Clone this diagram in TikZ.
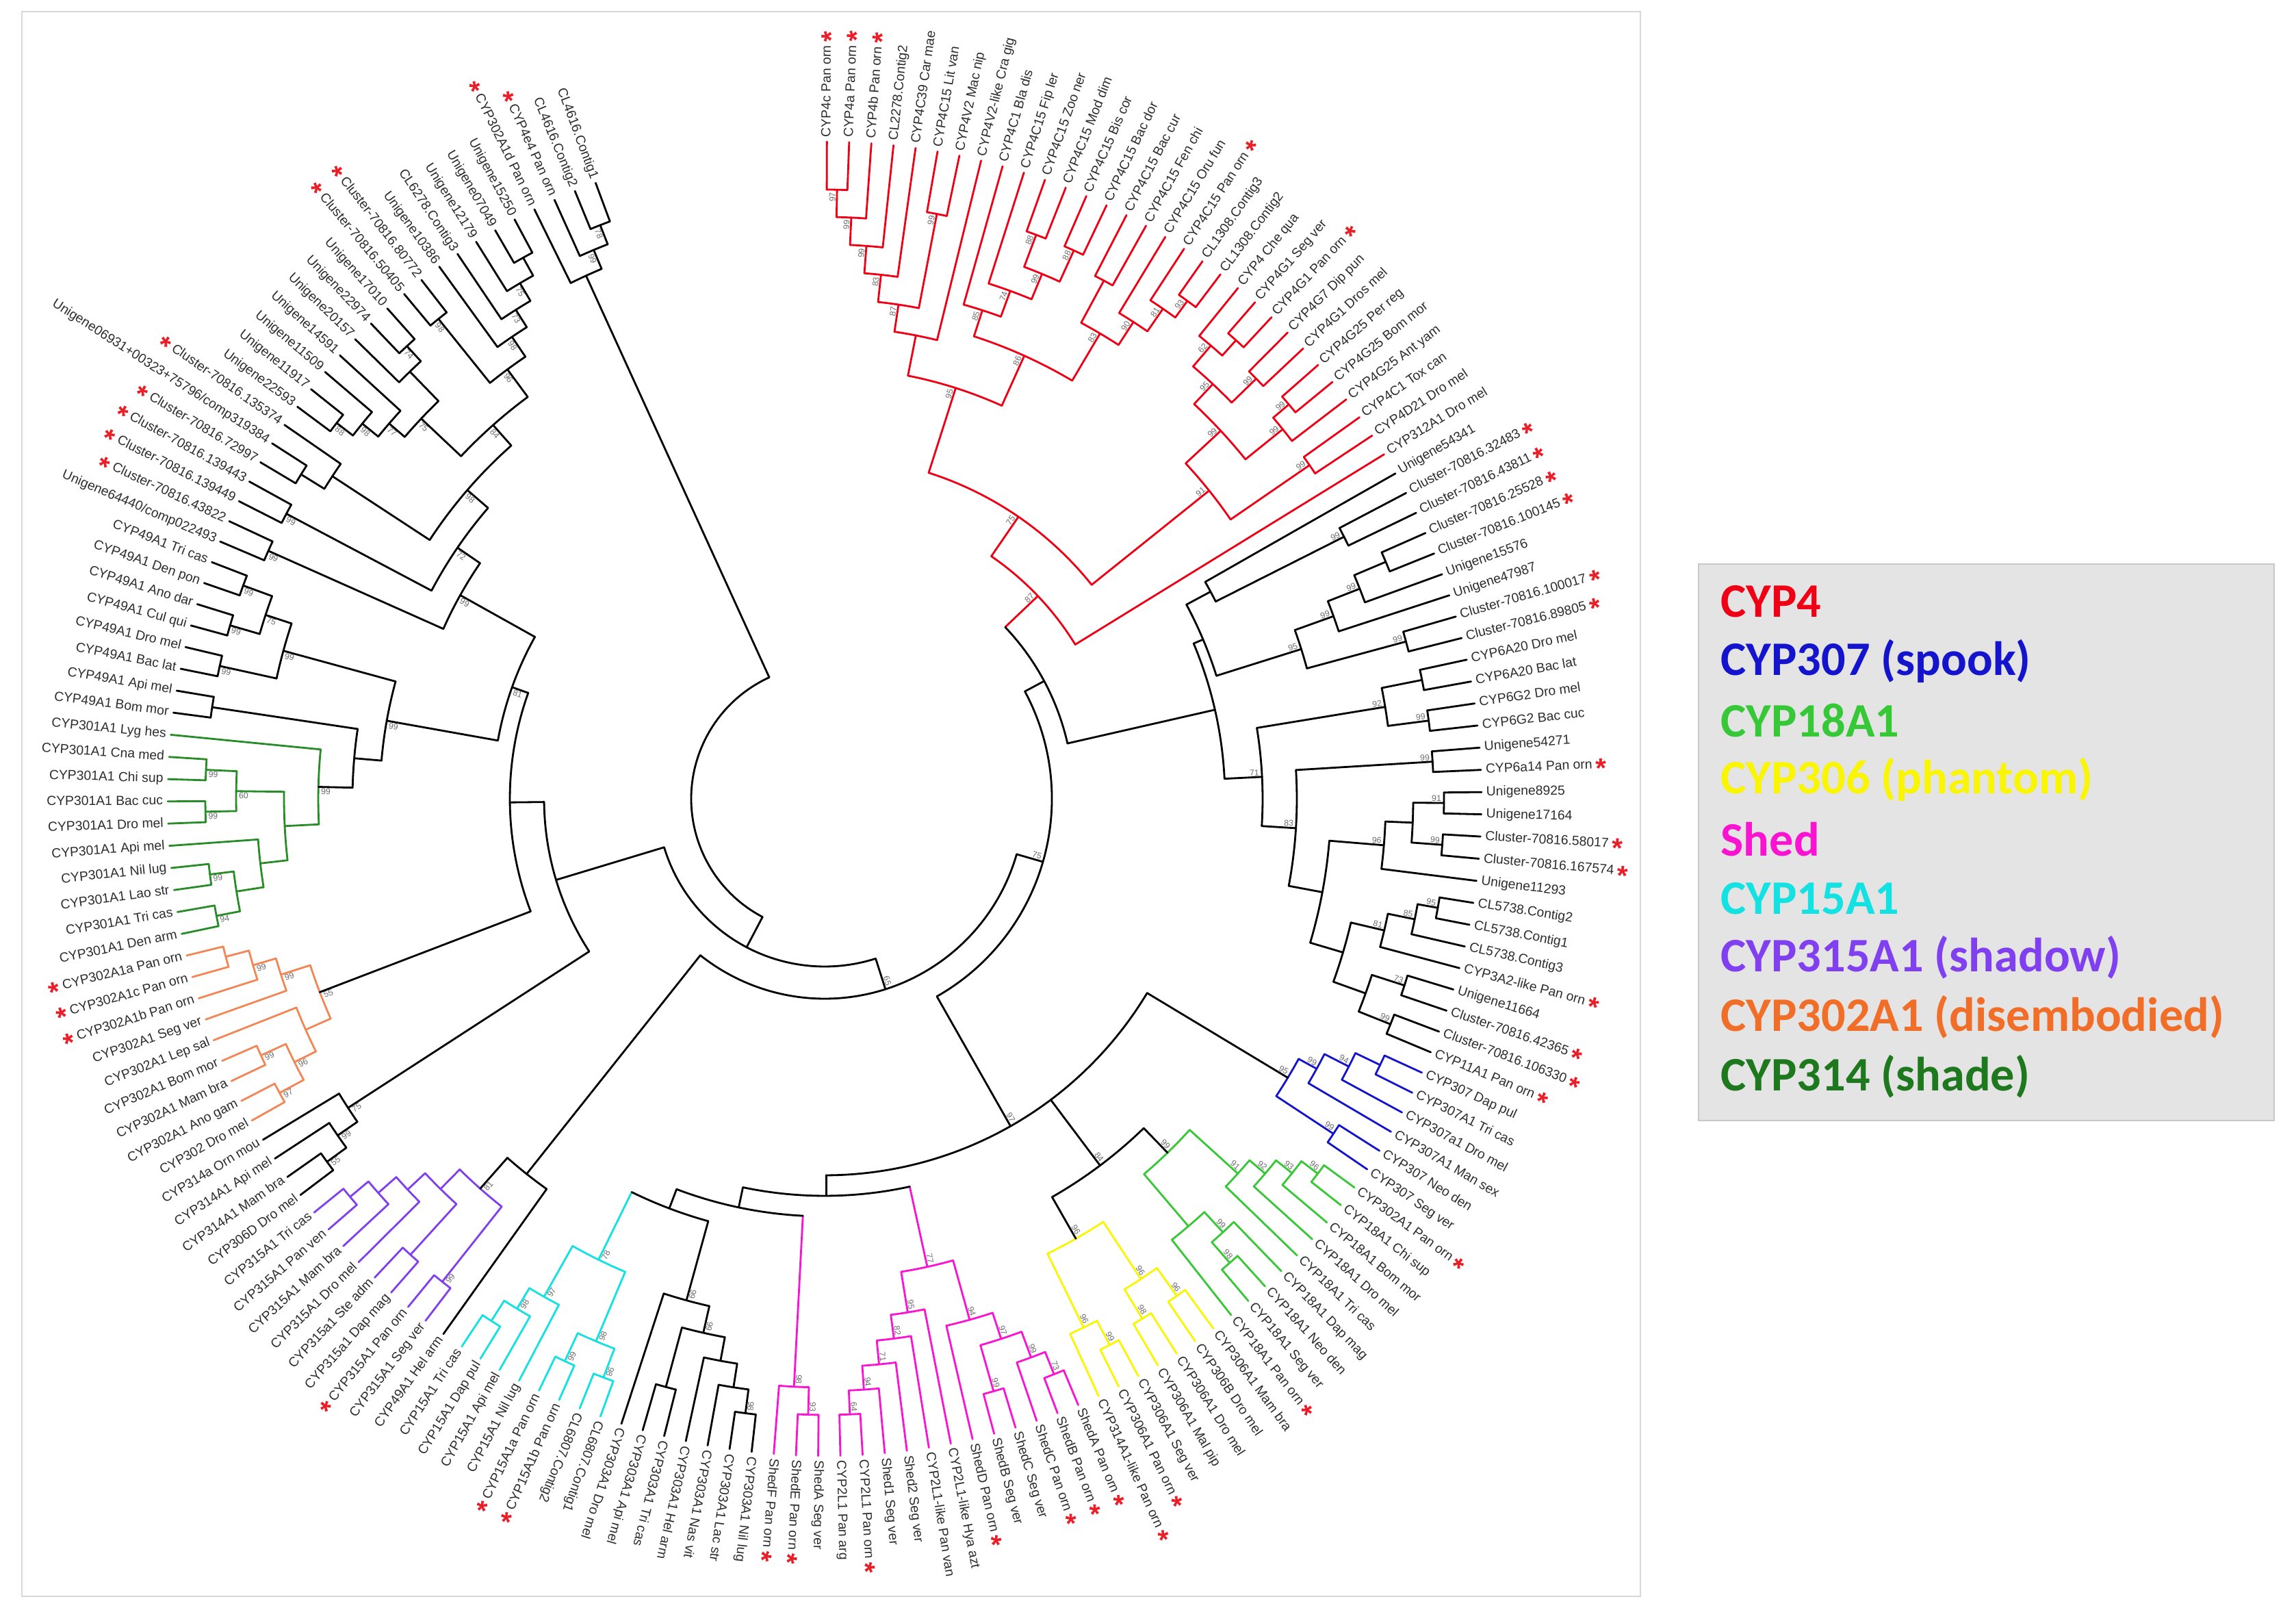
\documentclass[tikz,border=0pt]{standalone}
\usepackage{fontspec}
\setmainfont{Liberation Sans}
\newfontfamily\legfont{Carlito}
\usepackage{tikz}

\definecolor{cfour}{RGB}{240,0,20}
\definecolor{cspook}{RGB}{20,20,205}
\definecolor{ceighteen}{RGB}{55,200,55}
\definecolor{cphantom}{RGB}{250,245,0}
\definecolor{cshed}{RGB}{250,20,210}
\definecolor{cfifteen}{RGB}{20,225,225}
\definecolor{cshadow}{RGB}{128,64,240}
\definecolor{cdisemb}{RGB}{240,110,40}
\definecolor{cdisembtree}{RGB}{242,135,85}
\definecolor{cshade}{RGB}{30,120,30}
\definecolor{cshadetree}{RGB}{40,140,40}
\definecolor{clabel}{RGB}{45,45,45}
\definecolor{cboot}{RGB}{110,110,110}
\definecolor{cstar}{RGB}{235,30,40}
\definecolor{legfill}{RGB}{228,228,228}
\definecolor{legline}{RGB}{200,200,200}
\definecolor{panel}{RGB}{215,215,215}

\newcommand{\tipr}{9.6}
\newcommand{\curcol}{black}
\newcommand{\starmark}{\hspace{1.5pt}\smash{\raisebox{-4pt}{\textcolor{cstar}{\fontsize{11.5}{11.5}\selectfont\bfseries *}}}\hspace{1.5pt}}
\newcommand{\setstem}[2]{\expandafter\xdef\csname tc@#1\endcsname{#2}}

\newcommand{\lf}[3]{%
  \pgfmathsetmacro{\lfang}{89.8-(#1-1)*1.9394}%
  \coordinate (l#1) at ({\lfang}:\tipr);%
  \expandafter\xdef\csname ta@l#1\endcsname{\lfang}%
  \expandafter\xdef\csname tr@l#1\endcsname{\tipr}%
  \expandafter\xdef\csname tc@l#1\endcsname{\curcol}%
  \ifdim\lfang pt>-112pt
    \node[leaflbl,anchor=west,rotate=\lfang] (lab#1) at ({\lfang}:{\tipr+0.07}) {#2\ifnum#3=1\starmark\fi};%
  \else
    \pgfmathsetmacro{\lfflip}{\lfang+180}%
    \node[leaflbl,anchor=east,rotate=\lfflip] (lab#1) at ({\lfang}:{\tipr+0.07}) {\ifnum#3=1\starmark\fi#2};%
  \fi}

\newcommand{\nd}[4]{%
  \gdef\ndmin{1000}\gdef\ndmax{-1000}%
  \foreach \ch in {#3}{%
    \pgfmathsetmacro{\chang}{\csname ta@\ch\endcsname}%
    \pgfmathsetmacro{\tmpv}{min(\ndmin,\chang)}\xdef\ndmin{\tmpv}%
    \pgfmathsetmacro{\tmpv}{max(\ndmax,\chang)}\xdef\ndmax{\tmpv}%
    \edef\chcol{\csname tc@\ch\endcsname}%
    \draw[branch,draw=\chcol] ({\chang}:#2) -- (\ch);%
  }%
  \draw[branch,draw=\curcol] ({\ndmax}:#2) arc[start angle=\ndmax,end angle=\ndmin,radius=#2];%
  \pgfmathsetmacro{\ndang}{(\ndmin+\ndmax)/2}%
  \coordinate (#1) at ({\ndang}:#2);%
  \expandafter\xdef\csname ta@#1\endcsname{\ndang}%
  \expandafter\xdef\csname tr@#1\endcsname{#2}%
  \expandafter\xdef\csname tc@#1\endcsname{\curcol}%
  \if\relax\detokenize{#4}\relax\else
    \ifdim\ndang pt>-112pt
      \node[boot,anchor=south east,rotate=\ndang] (bs#1) at ({\ndang}:{#2-0.02}) {#4};%
    \else
      \pgfmathsetmacro{\ndflip}{\ndang+180}%
      \node[boot,anchor=north west,rotate=\ndflip] (bs#1) at ({\ndang}:{#2-0.02}) {#4};%
    \fi
  \fi}

\tikzset{
  branch/.style={line width=0.8pt,line cap=round},
  leaflbl/.style={inner sep=0pt,outer sep=0pt,text=clabel,text height=4pt,text depth=1.1pt,font=\fontsize{5.5}{6}\selectfont},
  boot/.style={inner sep=0.4pt,text=cboot,font=\fontsize{3.5}{4}\selectfont},
  legitem/.style={anchor=west,inner sep=0pt,font=\legfont\bfseries\fontsize{20}{24}\selectfont}
}

\begin{document}
\begin{tikzpicture}
\useasboundingbox (0,0) rectangle (33.55,23.70);
\fill[white] (0,0) rectangle (33.55,23.70);
\draw[panel,line width=0.6pt] (0.32,0.38) rectangle (23.97,23.53);

\begin{scope}[shift={(12.05,12.03)}]
\renewcommand{\curcol}{cfour}
\lf{1}{CYP4c Pan orn}{1}
\lf{2}{CYP4a Pan orn}{1}
\lf{3}{CYP4b Pan orn}{1}
\lf{4}{CL2278.Contig2}{0}
\lf{5}{CYP4C39 Car mae}{0}
\lf{6}{CYP4C15 Lit van}{0}
\lf{7}{CYP4V2 Mac nip}{0}
\lf{8}{CYP4V2-like Cra gig}{0}
\lf{9}{CYP4C1 Bla dis}{0}
\lf{10}{CYP4C15 Fip ler}{0}
\lf{11}{CYP4C15 Zoo ner}{0}
\lf{12}{CYP4C15 Mod dim}{0}
\lf{13}{CYP4C15 Bis cor}{0}
\lf{14}{CYP4C15 Bac dor}{0}
\lf{15}{CYP4C15 Bac cur}{0}
\lf{16}{CYP4C15 Fen chi}{0}
\lf{17}{CYP4C15 Oru fun}{0}
\lf{18}{CYP4C15 Pan orn}{1}
\lf{19}{CL1308.Contig3}{0}
\lf{20}{CL1308.Contig2}{0}
\lf{21}{CYP4 Che qua}{0}
\lf{22}{CYP4G1 Seg ver}{0}
\lf{23}{CYP4G1 Pan orn}{1}
\lf{24}{CYP4G7 Dip pun}{0}
\lf{25}{CYP4G1 Dros mel}{0}
\lf{26}{CYP4G25 Per reg}{0}
\lf{27}{CYP4G25 Bom mor}{0}
\lf{28}{CYP4G25 Ant yam}{0}
\lf{29}{CYP4C1 Tox can}{0}
\lf{30}{CYP4D21 Dro mel}{0}
\lf{31}{CYP312A1 Dro mel}{0}
\renewcommand{\curcol}{black}
\lf{32}{Unigene54341}{0}
\lf{33}{Cluster-70816.32483}{1}
\lf{34}{Cluster-70816.43811}{1}
\lf{35}{Cluster-70816.25528}{1}
\lf{36}{Cluster-70816.100145}{1}
\lf{37}{Unigene15576}{0}
\lf{38}{Unigene47987}{0}
\lf{39}{Cluster-70816.100017}{1}
\lf{40}{Cluster-70816.89805}{1}
\lf{41}{CYP6A20 Dro mel}{0}
\lf{42}{CYP6A20 Bac lat}{0}
\lf{43}{CYP6G2 Dro mel}{0}
\lf{44}{CYP6G2 Bac cuc}{0}
\lf{45}{Unigene54271}{0}
\lf{46}{CYP6a14 Pan orn}{1}
\lf{47}{Unigene8925}{0}
\lf{48}{Unigene17164}{0}
\lf{49}{Cluster-70816.58017}{1}
\lf{50}{Cluster-70816.167574}{1}
\lf{51}{Unigene11293}{0}
\lf{52}{CL5738.Contig2}{0}
\lf{53}{CL5738.Contig1}{0}
\lf{54}{CL5738.Contig3}{0}
\lf{55}{CYP3A2-like Pan orn}{1}
\lf{56}{Unigene11664}{0}
\lf{57}{Cluster-70816.42365}{1}
\lf{58}{Cluster-70816.106330}{1}
\lf{59}{CYP11A1 Pan orn}{1}
\renewcommand{\curcol}{cspook}
\lf{60}{CYP307 Dap pul}{0}
\lf{61}{CYP307A1 Tri cas}{0}
\lf{62}{CYP307a1 Dro mel}{0}
\lf{63}{CYP307A1 Man sex}{0}
\lf{64}{CYP307 Neo den}{0}
\lf{65}{CYP307 Seg ver}{0}
\renewcommand{\curcol}{ceighteen}
\lf{66}{CYP302A1 Pan orn}{1}
\lf{67}{CYP18A1 Chi sup}{0}
\lf{68}{CYP18A1 Bom mor}{0}
\lf{69}{CYP18A1 Dro mel}{0}
\lf{70}{CYP18A1 Tri cas}{0}
\lf{71}{CYP18A1 Dap mag}{0}
\lf{72}{CYP18A1 Neo den}{0}
\lf{73}{CYP18A1 Seg ver}{0}
\lf{74}{CYP18A1 Pan orn}{1}
\renewcommand{\curcol}{cphantom}
\lf{75}{CYP306A1 Mam bra}{0}
\lf{76}{CYP306B Dro mel}{0}
\lf{77}{CYP306A1 Dro mel}{0}
\lf{78}{CYP306A1 Mal pip}{0}
\lf{79}{CYP306A1 Seg ver}{0}
\lf{80}{CYP306A1 Pan orn}{1}
\lf{81}{CYP314A1-like Pan orn}{1}
\renewcommand{\curcol}{cshed}
\lf{82}{ShedA Pan orn}{1}
\lf{83}{ShedB Pan orn}{1}
\lf{84}{ShedC Pan orn}{1}
\lf{85}{ShedC Seg ver}{0}
\lf{86}{ShedB Seg ver}{0}
\lf{87}{ShedD Pan orn}{1}
\lf{88}{CYP2L1-like Hya azt}{0}
\lf{89}{CYP2L1-like Pan van}{0}
\lf{90}{Shed2 Seg ver}{0}
\lf{91}{Shed1 Seg ver}{0}
\lf{92}{CYP2L1 Pan orn}{1}
\lf{93}{CYP2L1 Pan arg}{0}
\lf{94}{ShedA Seg ver}{0}
\lf{95}{ShedE Pan orn}{1}
\lf{96}{ShedF Pan orn}{1}
\renewcommand{\curcol}{black}
\lf{97}{CYP303A1 Nil lug}{0}
\lf{98}{CYP303A1 Lac str}{0}
\lf{99}{CYP303A1 Nas vit}{0}
\lf{100}{CYP303A1 Hel arm}{0}
\lf{101}{CYP303A1 Tri cas}{0}
\lf{102}{CYP303A1 Api mel}{0}
\lf{103}{CYP303A1 Dro mel}{0}
\renewcommand{\curcol}{cfifteen}
\lf{104}{CL6807.Contig1}{0}
\lf{105}{CL6807.Contig2}{0}
\lf{106}{CYP15A1b Pan orn}{1}
\lf{107}{CYP15A1a Pan orn}{1}
\lf{108}{CYP15A1 Nil lug}{0}
\lf{109}{CYP15A1 Api mel}{0}
\lf{110}{CYP15A1 Dap pul}{0}
\lf{111}{CYP15A1 Tri cas}{0}
\renewcommand{\curcol}{black}
\lf{112}{CYP49A1 Hel arm}{0}
\renewcommand{\curcol}{cshadow}
\lf{113}{CYP315A1 Seg ver}{0}
\lf{114}{CYP315A1 Pan orn}{1}
\lf{115}{CYP315a1 Dap mag}{0}
\lf{116}{CYP315a1 Ste adm}{0}
\lf{117}{CYP315A1 Dro mel}{0}
\lf{118}{CYP315A1 Mam bra}{0}
\lf{119}{CYP315A1 Pan ven}{0}
\lf{120}{CYP315A1 Tri cas}{0}
\renewcommand{\curcol}{black}
\lf{121}{CYP306D Dro mel}{0}
\lf{122}{CYP314A1 Mam bra}{0}
\lf{123}{CYP314A1 Api mel}{0}
\lf{124}{CYP314a Orn mou}{0}
\renewcommand{\curcol}{cdisembtree}
\lf{125}{CYP302 Dro mel}{0}
\lf{126}{CYP302A1 Ano gam}{0}
\lf{127}{CYP302A1 Mam bra}{0}
\lf{128}{CYP302A1 Bom mor}{0}
\lf{129}{CYP302A1 Lep sal}{0}
\lf{130}{CYP302A1 Seg ver}{0}
\lf{131}{CYP302A1b Pan orn}{1}
\lf{132}{CYP302A1c Pan orn}{1}
\lf{133}{CYP302A1a Pan orn}{1}
\renewcommand{\curcol}{cshadetree}
\lf{134}{CYP301A1 Den arm}{0}
\lf{135}{CYP301A1 Tri cas}{0}
\lf{136}{CYP301A1 Lao str}{0}
\lf{137}{CYP301A1 Nil lug}{0}
\lf{138}{CYP301A1 Api mel}{0}
\lf{139}{CYP301A1 Dro mel}{0}
\lf{140}{CYP301A1 Bac cuc}{0}
\lf{141}{CYP301A1 Chi sup}{0}
\lf{142}{CYP301A1 Cna med}{0}
\lf{143}{CYP301A1 Lyg hes}{0}
\renewcommand{\curcol}{black}
\lf{144}{CYP49A1 Bom mor}{0}
\lf{145}{CYP49A1 Api mel}{0}
\lf{146}{CYP49A1 Bac lat}{0}
\lf{147}{CYP49A1 Dro mel}{0}
\lf{148}{CYP49A1 Cul qui}{0}
\lf{149}{CYP49A1 Ano dar}{0}
\lf{150}{CYP49A1 Den pon}{0}
\lf{151}{CYP49A1 Tri cas}{0}
\lf{152}{Unigene64440/comp022493}{0}
\lf{153}{Cluster-70816.43822}{1}
\lf{154}{Cluster-70816.139449}{1}
\lf{155}{Cluster-70816.139443}{1}
\lf{156}{Cluster-70816.72997}{1}
\lf{157}{Unigene06931+00323+75796/comp319384}{0}
\lf{158}{Cluster-70816.135374}{1}
\lf{159}{Unigene22593}{0}
\lf{160}{Unigene11917}{0}
\lf{161}{Unigene11509}{0}
\lf{162}{Unigene14591}{0}
\lf{163}{Unigene20157}{0}
\lf{164}{Unigene22974}{0}
\lf{165}{Unigene17010}{0}
\lf{166}{Cluster-70816.50405}{1}
\lf{167}{Cluster-70816.80772}{1}
\lf{168}{Unigene10386}{0}
\lf{169}{CL6278.Contig3}{0}
\lf{170}{Unigene12179}{0}
\lf{171}{Unigene07049}{0}
\lf{172}{Unigene15250}{0}
\lf{173}{CYP302A1d Pan orn}{1}
\lf{174}{CYP4e4 Pan orn}{1}
\lf{175}{CL4616.Contig2}{0}
\lf{176}{CL4616.Contig1}{0}

\renewcommand{\curcol}{cfour}
\nd{r1}{8.9}{l1,l2}{97}
\nd{r2}{8.5}{r1,l3}{99}
\nd{r3}{8.1}{r2,l4}{99}
\nd{r4}{8.7}{l6,l7}{99}
\nd{r5}{7.7}{r3,l5}{83}
\nd{r6}{7.3}{r5,r4}{87}
\nd{r7}{6.9}{r6,l8}{}
\nd{r8}{8.8}{l11,l12}{88}
\nd{r9}{8.8}{l13,l14}{88}
\nd{r10}{8.3}{r8,r9}{99}
\nd{r11}{7.9}{l10,r10}{74}
\nd{r12}{7.5}{l9,r11}{85}
\nd{r13}{8.6}{l15,l16}{}
\nd{r14}{9.0}{l19,l20}{93}
\nd{r15}{8.7}{l18,r14}{81}
\nd{r16}{8.3}{l17,r15}{90}
\nd{r17}{7.9}{r13,r16}{83}
\nd{r18}{7.1}{r12,r17}{86}
\nd{r19}{6.3}{r7,r18}{95}
\nd{r20}{9.0}{l22,l23}{}
\nd{r21}{8.7}{l21,r20}{62}
\nd{r22}{8.8}{l24,l25}{99}
\nd{r23}{8.3}{r21,r22}{95}
\nd{r24}{8.9}{l26,l27}{99}
\nd{r25}{8.6}{r24,l28}{99}
\nd{r26}{7.9}{r23,r25}{99}
\nd{r27}{8.6}{l29,l30}{99}
\nd{r28}{7.2}{r26,r27}{91}
\nd{r29}{5.0}{r19,r28}{75}
\nd{r30}{4.3}{r29,l31}{87}

\renewcommand{\curcol}{black}
\nd{b1}{8.5}{l33,l34}{99}
\nd{b2}{8.9}{l35,l36}{}
\nd{b3}{8.4}{b2,l37}{99}
\nd{b4}{7.9}{b3,l38}{99}
\nd{b5}{8.8}{l39,l40}{99}
\nd{b6}{7.3}{b4,b5}{95}
\nd{b7}{6.4}{l32,b1}{}
\nd{b8}{6.0}{b7,b6}{}
\nd{b9}{8.9}{l41,l42}{}
\nd{b10}{8.9}{l43,l44}{99}
\nd{b11}{8.3}{b9,b10}{92}
\nd{b12}{8.9}{l45,l46}{99}
\nd{b13}{9.05}{l47,l48}{91}
\nd{b14}{9.05}{l49,l50}{99}
\nd{b15}{8.6}{b13,b14}{}
\nd{b16}{8.2}{b15,l51}{96}
\nd{b17}{9.1}{l52,l53}{95}
\nd{b18}{8.8}{b17,l54}{85}
\nd{b19}{8.4}{b18,l55}{81}
\nd{b20}{8.9}{l56,l57}{73}
\nd{b21}{8.9}{l58,l59}{99}
\nd{b22}{8.4}{b20,b21}{}
\nd{b23}{7.9}{b19,b22}{}
\nd{b24}{7.4}{b16,b23}{}
\nd{b25}{6.9}{b12,b24}{83}
\nd{b26}{6.4}{b11,b25}{71}
\nd{b27}{5.85}{b8,b26}{}

\renewcommand{\curcol}{cspook}
\nd{bl1}{9.0}{l60,l61}{}
\nd{bl2}{8.6}{bl1,l62}{94}
\nd{bl3}{8.2}{bl2,l63}{99}
\nd{bl4}{8.9}{l64,l65}{99}
\nd{bl5}{7.9}{bl3,bl4}{95}
\setstem{bl5}{black}

\renewcommand{\curcol}{ceighteen}
\nd{g1}{9.05}{l66,l67}{96}
\nd{g2}{8.75}{g1,l68}{93}
\nd{g3}{8.45}{g2,l69}{92}
\nd{g4}{8.15}{g3,l70}{91}
\nd{g5}{9.0}{l72,l73}{98}
\nd{g6}{8.6}{l71,g5}{99}
\nd{g7}{8.2}{g6,l74}{}
\nd{g8}{7.2}{g4,g7}{99}
\setstem{g8}{black}

\renewcommand{\curcol}{cphantom}
\nd{y1}{8.9}{l75,l76}{96}
\nd{y2}{8.9}{l77,l78}{98}
\nd{y3}{8.4}{y1,y2}{96}
\nd{y4}{9.0}{l79,l80}{99}
\nd{y5}{8.6}{y4,l81}{96}
\nd{y6}{7.4}{y3,y5}{96}
\setstem{y6}{black}

\renewcommand{\curcol}{cshed}
\nd{m1}{9.05}{l82,l83}{73}
\nd{m2}{8.7}{m1,l84}{99}
\nd{m3}{9.0}{l85,l86}{99}
\nd{m4}{8.3}{m2,m3}{97}
\nd{m5}{7.9}{m4,l87}{94}
\nd{m6}{9.0}{l92,l93}{64}
\nd{m7}{8.65}{l91,m6}{94}
\nd{m8}{8.3}{l90,m7}{71}
\nd{m9}{7.95}{l89,m8}{82}
\nd{m10}{7.6}{l88,m9}{95}
\nd{m11}{7.0}{m5,m10}{77}
\nd{m12}{9.0}{l94,l95}{93}
\nd{m13}{8.6}{m12,l96}{98}

\renewcommand{\curcol}{black}
\nd{c1}{9.05}{l97,l98}{98}
\nd{c2}{8.7}{c1,l99}{}
\nd{c3}{8.35}{c2,l100}{}
\nd{c4}{8.9}{l101,l102}{}
\nd{c5}{8.0}{c3,c4}{99}
\nd{c6}{7.6}{c5,l103}{99}

\renewcommand{\curcol}{cfifteen}
\nd{cy1}{9.05}{l104,l105}{98}
\nd{cy2}{9.05}{l106,l107}{99}
\nd{cy3}{8.6}{cy1,cy2}{98}
\nd{cy4}{9.05}{l110,l111}{}
\nd{cy5}{8.7}{l109,cy4}{98}
\nd{cy6}{8.35}{l108,cy5}{97}
\nd{cy7}{7.5}{cy3,cy6}{78}

\renewcommand{\curcol}{cshadow}
\nd{p1}{9.05}{l119,l120}{}
\nd{p2}{8.7}{p1,l118}{}
\nd{p3}{8.35}{p2,l117}{}
\nd{p4}{9.0}{l115,l116}{}
\nd{p5}{8.0}{p3,p4}{}
\nd{p6}{9.0}{l113,l114}{99}
\nd{p7}{7.6}{p5,p6}{81}
\setstem{p7}{black}

\renewcommand{\curcol}{black}
\nd{k1}{9.0}{l121,l122}{55}
\nd{k2}{8.65}{k1,l123}{99}
\nd{k3}{8.3}{k2,l124}{75}

\renewcommand{\curcol}{cdisembtree}
\nd{o1}{9.05}{l125,l126}{97}
\nd{o2}{9.05}{l127,l128}{99}
\nd{o3}{8.65}{o1,o2}{96}
\nd{o4}{8.3}{o3,l129}{}
\nd{o5}{9.05}{l132,l133}{}
\nd{o6}{8.7}{o5,l131}{99}
\nd{o7}{8.35}{o6,l130}{99}
\nd{o8}{7.9}{o4,o7}{55}
\setstem{o8}{black}

\renewcommand{\curcol}{cshadetree}
\nd{d1}{9.05}{l134,l135}{94}
\nd{d2}{9.05}{l136,l137}{99}
\nd{d3}{8.7}{d1,d2}{}
\nd{d4}{8.3}{d3,l138}{}
\nd{d5}{9.05}{l139,l140}{99}
\nd{d6}{9.05}{l141,l142}{99}
\nd{d7}{8.6}{d5,d6}{60}
\nd{d8}{7.9}{d4,d7}{}
\nd{d9}{7.4}{d8,l143}{99}
\setstem{d9}{black}

\renewcommand{\curcol}{black}
\nd{e1}{9.05}{l144,l145}{}
\nd{e2}{6.9}{e1,d9}{}
\nd{e3}{9.05}{l146,l147}{99}
\nd{e4}{9.05}{l148,l149}{99}
\nd{e5}{9.05}{l150,l151}{99}
\nd{e6}{8.6}{e4,e5}{75}
\nd{e7}{8.2}{e3,e6}{99}
\nd{e8}{6.5}{e7,e2}{99}
\nd{u1}{8.9}{l152,l153}{99}
\nd{u2}{8.9}{l154,l155}{99}
\nd{u3}{9.0}{l156,l157}{}
\nd{u4}{8.6}{u3,l158}{}
\nd{u5}{9.0}{l159,l160}{88}
\nd{u6}{8.7}{u5,l161}{98}
\nd{u7}{8.4}{u6,l162}{77}
\nd{u8}{9.0}{l164,l165}{74}
\nd{u9}{8.7}{l163,u8}{}
\nd{u10}{8.1}{u7,u9}{75}
\nd{u11}{9.0}{l166,l167}{98}
\nd{u12}{9.05}{l171,l172}{}
\nd{u13}{8.75}{u12,l170}{75}
\nd{u14}{8.45}{u13,l169}{73}
\nd{u15}{8.15}{u14,l168}{98}
\nd{u16}{7.8}{u11,u15}{96}
\nd{u17}{7.3}{u10,u16}{84}
\nd{u18}{6.9}{u4,u17}{98}
\nd{u19}{6.5}{u2,u18}{72}
\nd{u20}{6.1}{u1,u19}{99}
\nd{pp}{4.85}{e8,u20}{81}
\nd{h1}{9.0}{l175,l176}{78}
\nd{h2}{8.7}{h1,l174}{99}
\nd{h3}{8.4}{h2,l173}{}

\nd{mm}{4.6}{pp,o8}{}
\nd{ll}{4.1}{mm,k3}{}
\nd{cc}{6.4}{cy7,c6}{}
\nd{be}{6.1}{cc,m13}{}
\nd{al}{5.8}{be,m11}{}
\nd{gy}{6.7}{g8,y6}{84}
\nd{ww}{5.5}{bl5,gy,al}{97}
\nd{vv}{3.64}{r30,b27}{}
\nd{zz}{3.32}{ww,vv}{75}
\nd{ph}{7.0}{p7,l112}{}
\nd{yy}{2.92}{ph,zz}{65}
\nd{xx}{2.45}{ll,yy}{}
\nd{root}{1.95}{h3,xx}{}
\end{scope}

\fill[legfill] (24.82,7.33) rectangle (33.23,15.46);
\draw[legline,line width=0.8pt] (24.82,7.33) rectangle (33.23,15.46);
\foreach \txt/\col [count=\i from 0] in {CYP4/cfour,CYP307 (spook)/cspook,CYP18A1/ceighteen,CYP306 (phantom)/cphantom,Shed/cshed,CYP15A1/cfifteen,CYP315A1 (shadow)/cshadow,CYP302A1 (disembodied)/cdisemb,CYP314 (shade)/cshade}
  \node[legitem,text=\col] (leg\i) at (25.14,14.91-0.867*\i) {\txt};
\end{tikzpicture}
\end{document}
